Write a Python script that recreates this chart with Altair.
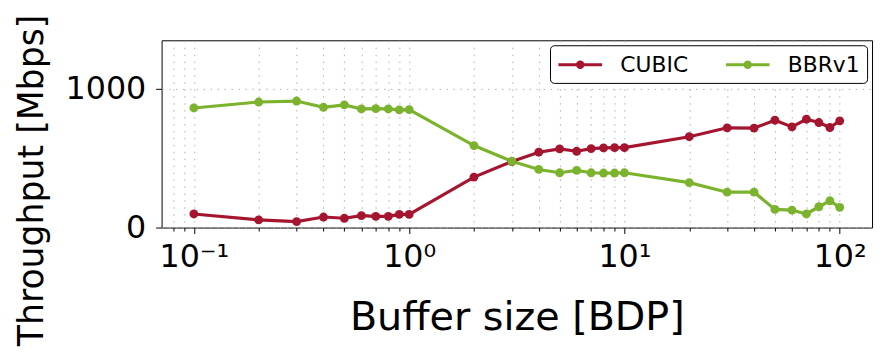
import altair as alt
import pandas as pd

# ---- data ----
buffer_bdp = [0.1, 0.2, 0.3, 0.4, 0.5, 0.6, 0.7, 0.8, 0.9, 1,
              2, 3, 4, 5, 6, 7, 8, 9, 10,
              20, 30, 40, 50, 60, 70, 80, 90, 100]
cubic = [98, 55, 43, 76, 67, 86, 81, 81, 95, 95,
         364, 476, 543, 567, 550, 569, 574, 576, 576,
         655, 719, 717, 774, 726, 781, 757, 721, 769]
bbrv1 = [862, 905, 912, 867, 884, 855, 857, 855, 848, 850,
         591, 478, 419, 395, 412, 395, 393, 393, 395,
         324, 255, 255, 131, 126, 98, 150, 193, 146]
series_names = ["CUBIC", "BBRv1"]
series_colors = ["#a51530", "#7bb32e"]

x_tick_values = [0.08, 0.09,
                 0.1, 0.2, 0.3, 0.4, 0.5, 0.6, 0.7, 0.8, 0.9,
                 1, 2, 3, 4, 5, 6, 7, 8, 9,
                 10, 20, 30, 40, 50, 60, 70, 80, 90, 100]
x_major_values = [0.1, 1, 10, 100]
x_major_labels = ["10\u207b\u00b9", "10\u2070", "10\u00b9", "10\u00b2"]
y_tick_values = [0, 1000]

rows = []
for name, vals in zip(series_names, [cubic, bbrv1]):
    for b, v in zip(buffer_bdp, vals):
        rows.append({"series": name, "buffer": b, "throughput": v})
df = pd.DataFrame(rows)

label_expr = " : ".join(
    f"datum.value == {v} ? '{l}'" for v, l in zip(x_major_values, x_major_labels)
) + " : ''"
major_test = "indexof([" + ",".join(str(v) for v in x_major_values) + "], datum.value) >= 0"

FONT = "DejaVu Sans"

x_enc = alt.X(
    "buffer:Q",
    scale=alt.Scale(type="log", domain=[0.0708, 141.3], nice=False, zero=False),
    axis=alt.Axis(
        title="Buffer size [BDP]",
        values=x_tick_values,
        labelExpr=label_expr,
        labelOverlap=False,
        labelFlush=False,
        tickSize={"condition": {"test": major_test, "value": 6}, "value": 3.5},
        labelFontSize=32,
        titleFontSize=40,
        labelPadding=8,
        titlePadding=26,
    ),
)
y_enc = alt.Y(
    "throughput:Q",
    scale=alt.Scale(domain=[0, 1350], nice=False, zero=True),
    axis=alt.Axis(
        title="Throughput [Mbps]",
        values=y_tick_values,
        format="d",
        tickSize=6,
        labelFontSize=32,
        titleFontSize=35,
        labelPadding=10,
        titleX=-113,
        titleY=141,
        titleAngle=270,
        titleBaseline="bottom",
        titleAlign="center",
    ),
)

sym_path = ("M-2,0L2,0"
            "M-0.25,0A0.25,0.25,0,1,1,0.25,0A0.25,0.25,0,1,1,-0.25,0"
            "M-0.11,0A0.11,0.11,0,1,1,0.11,0A0.11,0.11,0,1,1,-0.11,0")

color_enc = alt.Color(
    "series:N",
    scale=alt.Scale(domain=series_names, range=series_colors),
    sort=series_names,
    legend=alt.Legend(
        title=None,
        orient="top-right",
        offset=5,
        direction="horizontal",
        symbolType=sym_path,
        symbolSize=484,
        symbolStrokeWidth=3,
        symbolOffset=11,
        labelOffset=28,
        labelFontSize=22,
        labelFont=FONT,
        labelColor="black",
        columnPadding=31,
        padding=7,
        strokeColor="black",
        fillColor="white",
        cornerRadius=4,
    ),
)

lines = alt.Chart(df).mark_line(strokeWidth=3.2).encode(
    x=x_enc, y=y_enc, color=color_enc, order="buffer:Q"
)
points = alt.Chart(df).mark_point(filled=True, size=80, opacity=1).encode(
    x=x_enc, y=y_enc, color=color_enc
)

chart = alt.layer(lines, points).properties(
    width=717,
    height=189,
    autosize=alt.AutoSizeParams(type="none"),
    padding={"left": 155, "top": 31, "right": 5, "bottom": 125},
).configure_view(
    stroke="black", strokeWidth=1
).configure_axis(
    labelFont=FONT,
    titleFont=FONT,
    labelColor="black",
    titleColor="black",
    titleFontWeight="normal",
    domain=False,
    tickColor="black",
    tickWidth=1,
    grid=True,
    gridColor="#b0b0b0",
    gridDash=[1.5, 5.5],
    gridWidth=1,
)

chart.save("out.html", embed_options={"renderer": "svg", "actions": False})
